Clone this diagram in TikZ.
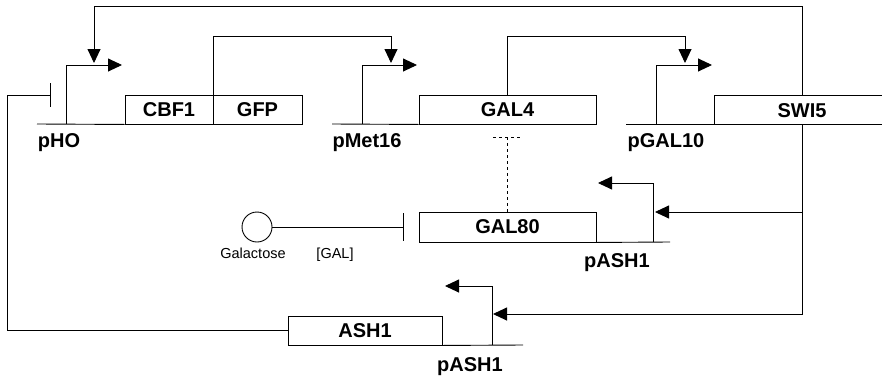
\documentclass[tikz,border=0pt]{standalone}
\usepackage{fontspec}
\setmainfont{Liberation Sans}
\usetikzlibrary{arrows.meta}

\begin{document}
\begin{tikzpicture}[x=1pt,y=-1pt,line width=0.9pt,
    gene/.style ={draw, rectangle, minimum height=29pt, inner sep=0pt,
                  font=\bfseries\fontsize{20}{20}\selectfont},
    lbl/.style ={anchor=base, inner sep=0pt, font=\bfseries\fontsize{20}{20}\selectfont},
    small/.style ={anchor=base, inner sep=0pt, font=\fontsize{14.5}{15}\selectfont},
    act/.style ={-{Triangle[length=14pt,width=13pt]}},
    rep/.style ={-{Bar[width=24pt]}}]
   \useasboundingbox (0,0) rectangle (882,375);

   % genes
   \node[gene, minimum width=88pt] (cbf1) at (169,109.5) {CBF1};
   \node[gene, minimum width=89pt] (gfp)  at (257.5,109.5) {GFP};
   \node[gene, minimum width=177pt] (gal4) at (507.5,109.5) {GAL4};
   \node[lbl] (swi5) at (802,117) {SWI5};
   \node[gene, minimum width=177pt, minimum height=30pt] (gal80) at (507.5,227) {GAL80};
   \node[gene, minimum width=154pt] (ash1) at (365,330.5) {ASH1};

   % promoter labels
   \node[lbl] (phoL)    at (59,147)  {pHO};
   \node[lbl] (met16L)  at (367,147) {pMet16};
   \node[lbl] (gal10L)  at (666,147) {pGAL10};
   \node[lbl] (ashaL)   at (617,267) {pASH1};
   \node[lbl] (ashbL)   at (470,371) {pASH1};

   % galactose
   \node[circle, draw, minimum size=30pt, inner sep=0pt] (gal) at (257,227) {};
   \node[small] (galL)  at (253,258) {Galactose};
   \node[small] (galcL) at (335,258) {[GAL]};

   \coordinate (dna1) at (37,124);
   \coordinate (dna2) at (332,124);
   \coordinate (dna3) at (626,124);
   \coordinate (dna4) at (670,242);
   \coordinate (dna5) at (523,345);
   \coordinate (swi5tl) at (714,95);
   \coordinate (swi5bl) at (714,124);
   \coordinate (swi5tr) at (884,95);
   \coordinate (swi5br) at (884,124);

   \coordinate (pho)     at (66,124);
   \coordinate (phoTip)  at (122,65);
   \coordinate (met16)   at (362,124);
   \coordinate (met16Tip) at (417,65);
   \coordinate (gal10)   at (656,124);
   \coordinate (gal10Tip) at (712,65);
   \coordinate (asha)    at (653,242);
   \coordinate (ashaTip) at (598,183);
   \coordinate (ashb)    at (492,345);
   \coordinate (ashbTip) at (445,286);

   \coordinate (swi5up)  at (802,95);
   \coordinate (swi5dn)  at (802,124);
   \coordinate (topL)    at (94,6);
   \coordinate (phoIn)   at (94,63);
   \coordinate (gfpTop)  at (391,36);
   \coordinate (met16In) at (391,63);
   \coordinate (gal4Top) at (685,36);
   \coordinate (gal10In) at (685,63);
   \coordinate (ashaIn)  at (655,212);
   \coordinate (ashbIn)  at (493,314);
   \coordinate (loopL)   at (7,95);
   \coordinate (phoBar)  at (51,95);
   \coordinate (galBar)  at (404,227);
   \coordinate (teeC)    at (507.5,137);
   \coordinate (teeL)    at (493,137);
   \coordinate (teeR)    at (522,137);

   % DNA lines
   \draw (dna1) -- (cbf1.south west);
   \draw (dna2) -- (gal4.south west);
   \draw (dna3) -- (swi5bl);
   \draw (swi5tr) -- (swi5tl) -- (swi5bl) -- (swi5br);
   \draw (gal80.south east) -- (dna4);
   \draw (ash1.south east) -- (dna5);

   % promoters
   \draw[act] (pho) |- (phoTip);
   \draw[act] (met16) |- (met16Tip);
   \draw[act] (gal10) |- (gal10Tip);
   \draw[act] (asha) |- (ashaTip);
   \draw[act] (ashb) |- (ashbTip);

   % regulation
   \draw[act] (swi5up) |- (topL) -- (phoIn);
   \draw[act] (cbf1.north east) |- (gfpTop) -- (met16In);
   \draw[act] (gal4.north) |- (gal4Top) -- (gal10In);
   \draw[act] (swi5dn) |- (ashaIn);
   \draw[act] (swi5dn) |- (ashbIn);
   \draw[rep] (ash1.west) -| (loopL) -- (phoBar);
   \draw[-{Bar[width=28pt]}] (gal) -- (galBar);
   \draw[dashed] (gal80.north) -- (teeC);
   \draw[dashed] (teeL) -- (teeR);
 \end{tikzpicture}
\end{document}
